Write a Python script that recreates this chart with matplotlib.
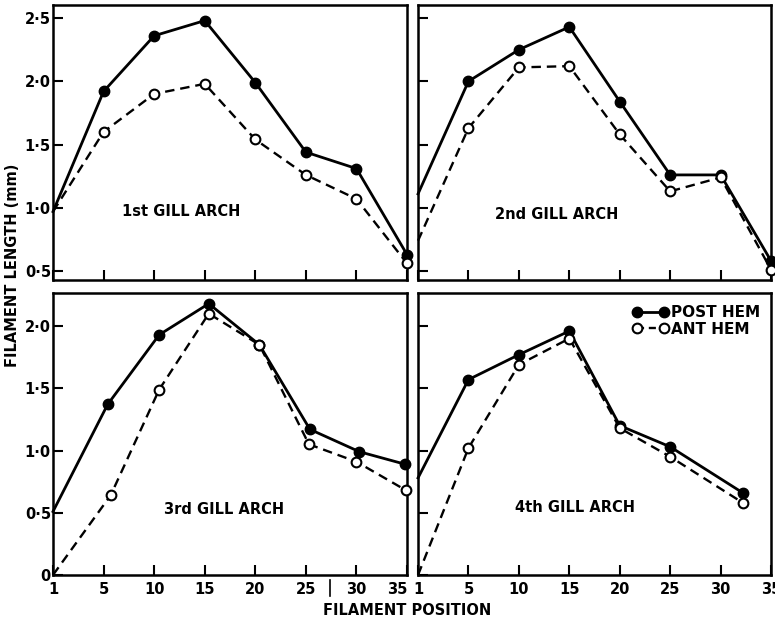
import matplotlib
matplotlib.use("Agg")
import matplotlib.pyplot as plt
from matplotlib.lines import Line2D

# Filament position 1 sits on the left edge of each panel
tick_pos = [0, 5, 10, 15, 20, 25, 30, 35]
tick_lab = ["1", "5", "10", "15", "20", "25", "30", "35"]

# 1st gill arch
arch1_post_x = [0, 5, 10, 15, 20, 25, 30, 35]
arch1_post_y = [0.97, 1.92, 2.36, 2.48, 1.99, 1.44, 1.31, 0.63]
arch1_ant_x = [0, 5, 10, 15, 20, 25, 30, 35]
arch1_ant_y = [0.97, 1.60, 1.90, 1.98, 1.54, 1.26, 1.07, 0.56]

# 2nd gill arch
arch2_post_x = [0, 5, 10, 15, 20, 25, 30, 35]
arch2_post_y = [1.11, 2.00, 2.25, 2.43, 1.84, 1.26, 1.26, 0.58]
arch2_ant_x = [0, 5, 10, 15, 20, 25, 30, 35]
arch2_ant_y = [0.74, 1.63, 2.11, 2.12, 1.58, 1.13, 1.24, 0.51]

# 3rd gill arch
arch3_post_x = [0, 5.4, 10.5, 15.4, 20.4, 25.4, 30.3, 34.8]
arch3_post_y = [0.51, 1.37, 1.93, 2.18, 1.85, 1.17, 0.99, 0.89]
arch3_ant_x = [0, 5.7, 10.5, 15.4, 20.4, 25.3, 30.0, 34.9]
arch3_ant_y = [0.0, 0.64, 1.49, 2.10, 1.85, 1.05, 0.91, 0.68]

# 4th gill arch
arch4_post_x = [0, 5, 10, 15, 20, 25, 32.2]
arch4_post_y = [0.78, 1.57, 1.77, 1.96, 1.20, 1.03, 0.66]
arch4_ant_x = [0, 5, 10, 15, 20, 25, 32.2]
arch4_ant_y = [0.0, 1.02, 1.69, 1.90, 1.18, 0.95, 0.58]

panels = [
    ("1st GILL ARCH", arch1_post_x, arch1_post_y, arch1_ant_x, arch1_ant_y),
    ("2nd GILL ARCH", arch2_post_x, arch2_post_y, arch2_ant_x, arch2_ant_y),
    ("3rd GILL ARCH", arch3_post_x, arch3_post_y, arch3_ant_x, arch3_ant_y),
    ("4th GILL ARCH", arch4_post_x, arch4_post_y, arch4_ant_x, arch4_ant_y),
]

plt.rcParams["font.family"] = "DejaVu Sans"
plt.rcParams["font.weight"] = "bold"

fig = plt.figure(figsize=(7.75, 6.22), dpi=100)

# axes rectangles (left, bottom, width, height) in figure fractions
rects = [
    [0.0684, 0.5498, 0.4568, 0.4421],
    [0.5394, 0.5498, 0.4555, 0.4421],
    [0.0684, 0.0756, 0.4568, 0.4534],
    [0.5394, 0.0756, 0.4555, 0.4534],
]
label_pos = [(12.7, 0.97), (13.7, 0.95), (16.9, 0.53), (15.6, 0.54)]

axes = []
for i, (name, px, py, ax_x, ay) in enumerate(panels):
    ax = fig.add_axes(rects[i])
    axes.append(ax)
    ax.plot(px, py, "-", color="black", lw=2.0, marker="o", ms=7.5,
            markevery=list(range(1, len(px))), mfc="black", mec="black",
            clip_on=False, zorder=3)
    ax.plot(ax_x, ay, "--", color="black", lw=1.7, dashes=(4, 2.5), marker="o",
            ms=7, markevery=list(range(1, len(ax_x))), mfc="white", mec="black",
            mew=1.5, clip_on=False, zorder=4)
    ax.set_xlim(0, 35)
    if i < 2:
        ax.set_ylim(0.429, 2.603)
        ax.set_yticks([0.5, 1.0, 1.5, 2.0, 2.5])
        ax.set_yticklabels(["0·5", "1·0", "1·5", "2·0", "2·5"])
    else:
        ax.set_ylim(0, 2.266)
        ax.set_yticks([0, 0.5, 1.0, 1.5, 2.0])
        ax.set_yticklabels(["0", "0·5", "1·0", "1·5", "2·0"])
    ax.set_xticks(tick_pos)
    ax.set_xticklabels(tick_lab)
    ax.tick_params(direction="in", length=7, width=1.5, labelsize=10.5)
    ax.tick_params(axis="x", pad=5)
    ax.tick_params(axis="y", pad=1.5)
    if i < 2:
        ax.tick_params(axis="x", labelbottom=False)
    if i in (1, 3):
        ax.tick_params(axis="y", labelleft=False)
    if i == 2:
        # last label of the left panel sits just inside its edge
        ax.get_xticklabels()[-1].set_horizontalalignment("right")
    for sp in ax.spines.values():
        sp.set_linewidth(1.8)
    ax.text(label_pos[i][0], label_pos[i][1], name, ha="center", va="center",
            fontsize=10.5, fontweight="bold")

handles = [
    Line2D([0], [0], color="black", lw=2.0, marker="o", ms=7.5, mfc="black"),
    Line2D([0], [0], color="black", lw=1.7, ls="--", dashes=(3, 2), marker="o",
           ms=7, mfc="white", mew=1.5),
]
axes[3].legend(handles, ["POST HEM", "ANT HEM"], loc="upper right",
               bbox_to_anchor=(1.0, 0.995), frameon=False, fontsize=11.0,
               handlelength=2.4, numpoints=2, handletextpad=0.15,
               labelspacing=0.1, borderaxespad=0.3)

fig.text(0.016, 0.574, "FILAMENT LENGTH (mm)", rotation=90, ha="center",
         va="center", fontsize=10.5, fontweight="bold")
fig.text(0.525, 0.019, "FILAMENT POSITION", ha="center", va="center",
         fontsize=10.5, fontweight="bold")
# small vertical mark under the axis, as in the original figure
fig.add_artist(Line2D([330 / 775, 330 / 775], [1 - 580 / 622, 1 - 596 / 622],
                      color="black", lw=1.2))

fig.savefig("out.png", dpi=100)
